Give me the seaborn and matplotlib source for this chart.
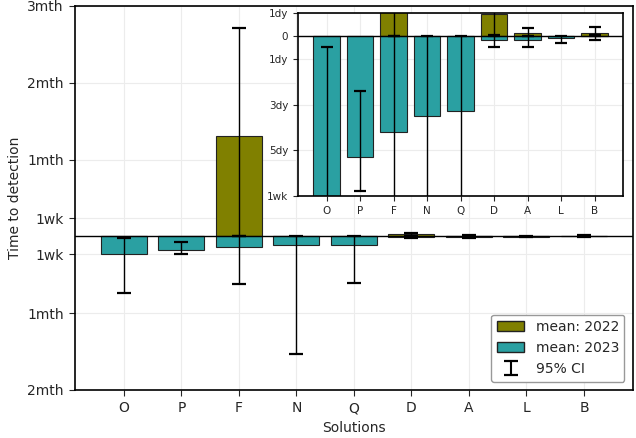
import numpy as np
import pandas as pd
import matplotlib
matplotlib.use("Agg")
import matplotlib.pyplot as plt
import seaborn as sns
from matplotlib.patches import Patch
from matplotlib.ticker import FixedLocator, FixedFormatter

# values in days (2023 plotted as negative)
solutions = ["O", "P", "F", "N", "Q", "D", "A", "L", "B"]
mean_2022 = [0.0, 0.0, 39.2, 0.0, 0.0, 0.94, 0.12, 0.0, 0.13]
ci_low_2022 = [np.nan, np.nan, 0.0, np.nan, np.nan, 0.05, 0.0, np.nan, 0.02]
ci_high_2022 = [np.nan, np.nan, 81.3, np.nan, np.nan, 1.2, 0.35, np.nan, 0.38]
mean_2023 = [-7.0, -5.3, -4.2, -3.5, -3.3, -0.19, -0.19, -0.1, -0.02]
ci_low_2023 = [-22.0, -6.8, -18.7, -46.0, -18.3, -0.5, -0.47, -0.33, -0.17]
ci_high_2023 = [-0.5, -2.4, 0.0, 0.0, 0.0, 0.0, 0.0, 0.0, 0.0]

main_ticks = [90, 60, 30, 7, -7, -30, -60]
main_labels = ["3mth", "2mth", "1mth", "1wk", "1wk", "1mth", "2mth"]
inset_ticks = [1, 0, -1, -3, -5, -7]
inset_labels = ["1dy", "0", "1dy", "3dy", "5dy", "1wk"]

OLIVE = "#808000"
TEAL = "#2aa0a2"

sns.set_style("ticks", {"axes.grid": True, "grid.color": "#ececec",
                        "axes.edgecolor": "black"})
plt.rcParams["font.family"] = ["DejaVu Sans"]
plt.rcParams["xtick.major.size"] = 4.5
plt.rcParams["ytick.major.size"] = 4.5
plt.rcParams["axes.linewidth"] = 1.2

df = pd.DataFrame({
    "solution": solutions * 2,
    "days": mean_2022 + mean_2023,
    "year": ["2022"] * len(solutions) + ["2023"] * len(solutions),
})


def draw(ax, capsize, lw_cap):
    sns.barplot(data=df, x="solution", y="days", hue="year", dodge=False,
                palette={"2022": OLIVE, "2023": TEAL}, errorbar=None,
                saturation=1, edgecolor="#222222", linewidth=0.8,
                legend=False, ax=ax, zorder=2)
    xs = np.arange(len(solutions))
    for m, lo, hi in [(mean_2022, ci_low_2022, ci_high_2022),
                      (mean_2023, ci_low_2023, ci_high_2023)]:
        m = np.array(m)
        lo = np.array(lo)
        hi = np.array(hi)
        ok = ~np.isnan(lo)
        ax.errorbar(xs[ok], m[ok], yerr=[m[ok] - lo[ok], hi[ok] - m[ok]],
                    fmt="none", ecolor="black", elinewidth=1,
                    capsize=capsize, capthick=lw_cap, zorder=3)
    ax.axhline(0, color="black", linewidth=1, zorder=4)
    ax.set_xlim(-0.85, 8.85)
    ax.grid(True, color="#ececec", linewidth=0.8)
    ax.set_axisbelow(True)


fig = plt.figure(figsize=(6.36, 4.38), dpi=100)
ax = fig.add_axes([0.118, 0.1096, 0.877, 0.877])
draw(ax, 5, 1.6)
ax.set_ylim(-60, 90)
ax.yaxis.set_major_locator(FixedLocator(main_ticks))
ax.yaxis.set_major_formatter(FixedFormatter(main_labels))
ax.tick_params(labelsize=10)
ax.set_xlabel("Solutions", fontsize=10)
ax.set_ylabel("Time to detection", fontsize=10)

# off-screen errorbar just for the legend symbol
err_handle = ax.errorbar([0], [500], yerr=[[1], [1]], fmt="none",
                         ecolor="black", elinewidth=1.5, capsize=5,
                         capthick=1.6)
handles = [Patch(facecolor=OLIVE, edgecolor="#222222", label="mean: 2022"),
           Patch(facecolor=TEAL, edgecolor="#222222", label="mean: 2023"),
           err_handle]
ax.legend(handles=handles, labels=["mean: 2022", "mean: 2023", "95% CI"],
          loc="lower right", fontsize=10, framealpha=1, edgecolor="#999999",
          borderaxespad=0.6)
ax.set_ylim(-60, 90)

ins = fig.add_axes([0.4686, 0.5525, 0.511, 0.4178])
draw(ins, 4, 1.6)
ins.set_ylim(-7, 1)
ins.yaxis.set_major_locator(FixedLocator(inset_ticks))
ins.yaxis.set_major_formatter(FixedFormatter(inset_labels))
ins.tick_params(labelsize=7.5, length=3.5)
ins.set_xlabel("")
ins.set_ylabel("")

fig.savefig("out.png", dpi=100)
